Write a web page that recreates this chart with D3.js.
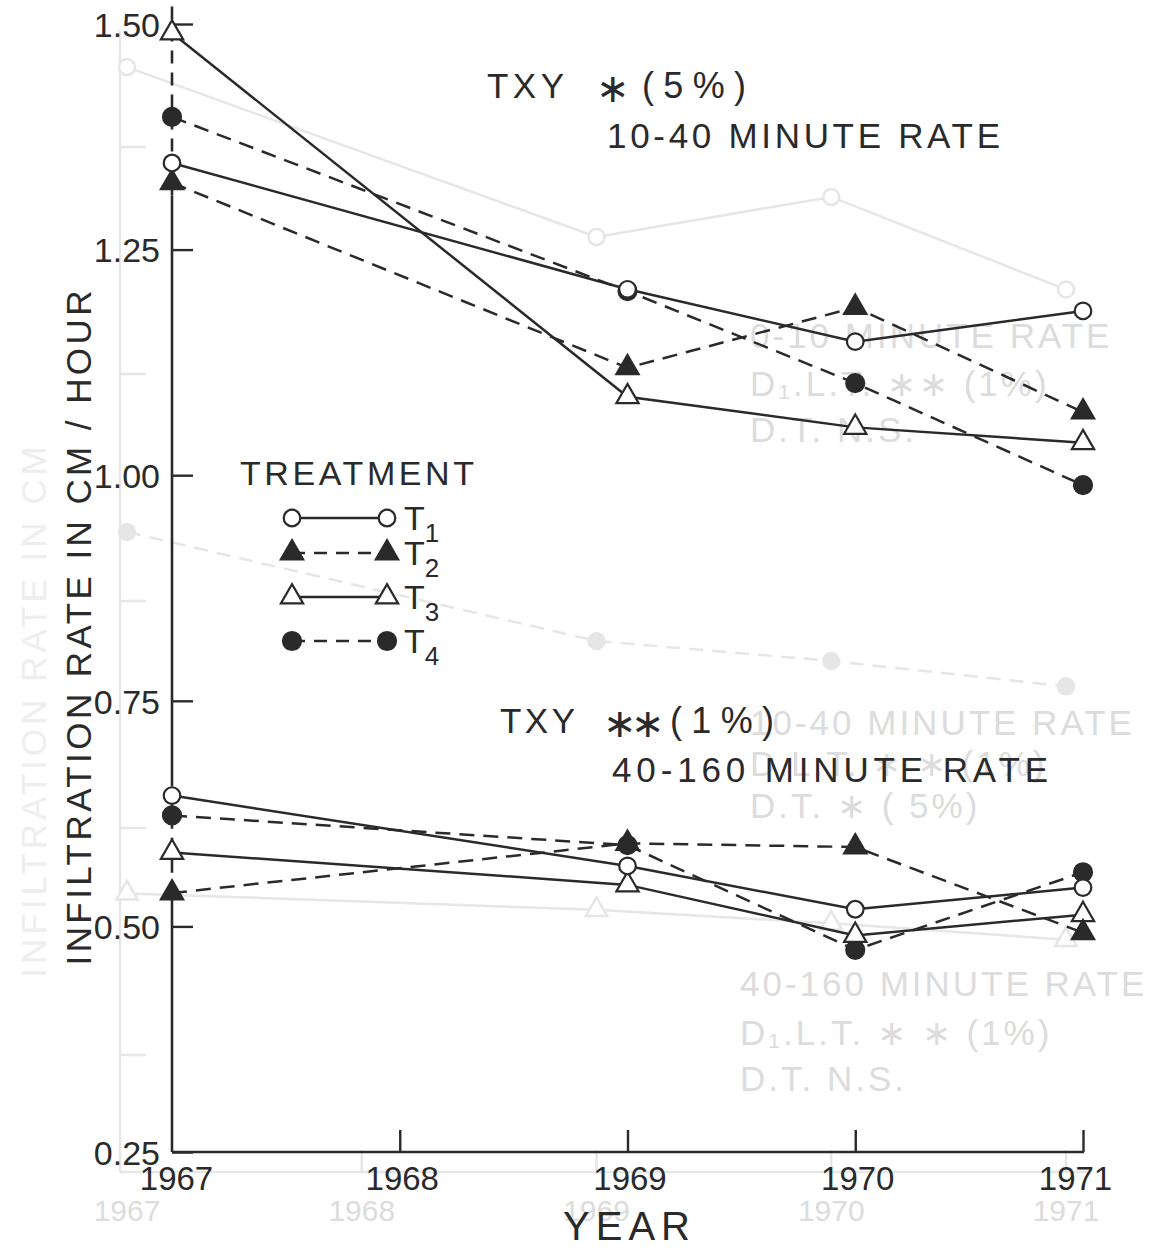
<!DOCTYPE html>
<html>
<head>
<meta charset="utf-8">
<script src="https://cdn.jsdelivr.net/npm/d3@7"></script>
<style>
  html, body { margin: 0; padding: 0; background: #ffffff; }
  svg { display: block; }
  text { font-family: "Liberation Sans", Arial, sans-serif; fill: #2a2a2a; }
</style>
</head>
<body>
<svg id="chart" width="1153" height="1250"></svg>
<script>
// ---- data -------------------------------------------------------------
const axisYears = [1967, 1968, 1969, 1970, 1971];
const sampleYears = [1967, 1969, 1970, 1971];
const rateTicks = [0.25, 0.50, 0.75, 1.00, 1.25, 1.50];
const treatmentNames = ["T1", "T2", "T3", "T4"];

// 10-40 minute infiltration rate (cm/hour)
const rate10to40T1 = [1.346, 1.206, 1.148, 1.182];
const rate10to40T2 = [1.324, 1.119, 1.186, 1.070];
const rate10to40T3 = [1.490, 1.087, 1.053, 1.036];
const rate10to40T4 = [1.397, 1.204, 1.102, 0.989];

// 40-160 minute infiltration rate (cm/hour)
const rate40to160T1 = [0.645, 0.567, 0.519, 0.543];
const rate40to160T2 = [0.537, 0.592, 0.588, 0.493];
const rate40to160T3 = [0.582, 0.546, 0.490, 0.513];
const rate40to160T4 = [0.623, 0.590, 0.474, 0.560];

// faint figure printed through from the facing page
const facingYears = [1967, 1968, 1969, 1970, 1971];
const facingTicks = [0.25, 0.50, 0.75, 1.00, 1.25];
const facingUpper = [1.338, 1.151, 1.195, 1.093];
const facingMiddle = [0.826, 0.706, 0.684, 0.656];
const facingLower = [0.428, 0.410, 0.395, 0.377];
const facingNotes = [
  "0-10 MINUTE RATE", "D\u2081.L.T. \u2217\u2217 (1%)", "D.T.  N.S.",
  "10-40 MINUTE RATE", "D.L.T. \u2217 \u2217 (1%)", "D.T.  \u2217  ( 5%)",
  "40-160 MINUTE RATE", "D\u2081.L.T.  \u2217 \u2217  (1%)", "D.T.   N.S."
];

// ---- setup ------------------------------------------------------------
const svg = d3.select("#chart");
const ink = "#2a2a2a";
const faint = "#dcdcdc";

const x = d3.scaleLinear().domain([1967, 1971]).range([172, 1083]);
const y = d3.scaleLinear().domain([0.25, 1.50]).range([1152, 24]);

// ---- facing-page figure (very light) ---------------------------------
const fx = d3.scaleLinear().domain([1967, 1971]).range([127, 1066]);
const fy = d3.scaleLinear().domain([0.25, 1.25]).range([1055, 147]);
const faintG = svg.append("g").attr("stroke", "#e6e6e6").attr("fill", "none").attr("stroke-width", 2.5);
faintG.append("line").attr("x1", 120).attr("x2", 120).attr("y1", 30).attr("y2", 1172);
faintG.append("line").attr("x1", 120).attr("x2", 1090).attr("y1", 1172).attr("y2", 1172);
faintG.selectAll(".fyt").data(facingTicks).join("line")
  .attr("x1", 120).attr("x2", 146).attr("y1", d => fy(d)).attr("y2", d => fy(d));
faintG.selectAll(".fxt").data(facingYears.slice(1)).join("line")
  .attr("x1", d => fx(d)).attr("x2", d => fx(d)).attr("y1", 1150).attr("y2", 1172);
const fLine = d3.line().x((d, i) => fx(sampleYears[i])).y(d => fy(d));
faintG.append("path").attr("d", fLine(facingUpper));
faintG.append("path").attr("d", fLine(facingMiddle)).attr("stroke-dasharray", "14,9");
faintG.append("path").attr("d", fLine(facingLower));
faintG.selectAll(".fc").data(facingUpper).join("circle")
  .attr("cx", (d, i) => fx(sampleYears[i])).attr("cy", d => fy(d)).attr("r", 8).attr("fill", "#fff");
faintG.selectAll(".fm").data(facingMiddle).join("circle")
  .attr("cx", (d, i) => fx(sampleYears[i])).attr("cy", d => fy(d)).attr("r", 8).attr("fill", "#e6e6e6");
faintG.selectAll(".fl").data(facingLower).join("path")
  .attr("transform", (d, i) => `translate(${fx(sampleYears[i])},${fy(d)})`)
  .attr("d", d3.symbol(d3.symbolTriangle, 200)()).attr("fill", "#fff");
svg.selectAll(".fyl").data(facingYears).join("text")
  .attr("x", d => fx(d)).attr("y", 1221).attr("text-anchor", "middle")
  .attr("font-size", 30).style("fill", faint).text(d => d);
const noteRows = [348, 396, 442, 735, 776, 818, 996, 1045, 1091];
svg.selectAll(".fn").data(facingNotes).join("text")
  .attr("x", (d, i) => i < 6 ? 750 : 740).attr("y", (d, i) => noteRows[i])
  .attr("font-size", 35).attr("letter-spacing", 3).style("fill", faint).text(d => d);
svg.append("text")
  .attr("transform", "translate(46,710) rotate(-90)")
  .attr("text-anchor", "middle").attr("font-size", 35).attr("letter-spacing", 4)
  .style("fill", "#eeeeee").text("INFILTRATION  RATE  IN  CM");

// ---- axes -------------------------------------------------------------
// vertical axis: solid where clear, broken where the 1967 markers stack up
const axisPieces = [
  { from: 0.25, to: 0.535, dash: null },
  { from: 0.535, to: 0.655, dash: "13,9" },
  { from: 0.655, to: 1.31, dash: null },
  { from: 1.31, to: 1.52, dash: "13,9" }
];
svg.append("g").selectAll("line").data(axisPieces).join("line")
  .attr("x1", x(1967)).attr("x2", x(1967))
  .attr("y1", d => y(d.from)).attr("y2", d => y(d.to))
  .attr("stroke", ink).attr("stroke-width", 2.6)
  .attr("stroke-dasharray", d => d.dash);

const yAxis = d3.axisLeft(y).tickValues(rateTicks).tickFormat(d3.format(".2f"))
  .tickSizeInner(-21).tickSizeOuter(0).tickPadding(12);
const gy = svg.append("g").attr("transform", `translate(${x(1967)},0)`).call(yAxis);
gy.select(".domain").remove();
gy.selectAll(".tick line").attr("stroke", ink).attr("stroke-width", 2.4);
gy.selectAll(".tick text").attr("font-size", 34).attr("font-family", null).attr("fill", null)
  .attr("dy", "0.36em");

const xAxis = d3.axisBottom(x).tickValues(axisYears).tickFormat(d3.format("d"))
  .tickSizeInner(-22).tickSizeOuter(0).tickPadding(15);
const gx = svg.append("g").attr("transform", `translate(0,${y(0.25)})`).call(xAxis);
gx.select(".domain").attr("stroke", ink).attr("stroke-width", 2.6).attr("d", `M${x(1967)},0H${x(1971) + 1}`);
gx.selectAll(".tick line").attr("stroke", ink).attr("stroke-width", 2.4)
  .attr("display", d => d === 1967 ? "none" : null);
gx.selectAll(".tick text").attr("font-size", 33).attr("font-family", null).attr("fill", null)
  .attr("dx", d => d === 1967 ? 4 : (d === 1971 ? -8 : 2));

// ---- series -----------------------------------------------------------
const seriesTop = [rate10to40T1, rate10to40T2, rate10to40T3, rate10to40T4];
const seriesBottom = [rate40to160T1, rate40to160T2, rate40to160T3, rate40to160T4];
const dashFor = [null, "15,9", null, "15,9"];
const markerFor = ["openCircle", "filledTriangle", "openTriangle", "filledCircle"];
const drawOrder = [3, 2, 1, 0];

const line = d3.line().x((d, i) => x(sampleYears[i])).y(d => y(d));
const plotG = svg.append("g");

function drawMarker(g, kind, cx, cy) {
  if (kind === "openCircle" || kind === "filledCircle") {
    g.append("circle").attr("cx", cx).attr("cy", cy)
      .attr("r", kind === "openCircle" ? 8.3 : 9)
      .attr("fill", kind === "openCircle" ? "#fff" : ink)
      .attr("stroke", ink).attr("stroke-width", 2.2);
  } else {
    g.append("path")
      .attr("transform", `translate(${cx},${cy})`)
      .attr("d", d3.symbol(d3.symbolTriangle, 215)())
      .attr("fill", kind === "openTriangle" ? "#fff" : ink)
      .attr("stroke", ink).attr("stroke-width", 2.2).attr("stroke-linejoin", "miter");
  }
}

[seriesTop, seriesBottom].forEach(group => {
  drawOrder.forEach(k => {
    plotG.append("path").attr("d", line(group[k])).attr("fill", "none")
      .attr("stroke", ink).attr("stroke-width", 2.5)
      .attr("stroke-dasharray", dashFor[k]);
  });
});
[seriesTop, seriesBottom].forEach(group => {
  drawOrder.forEach(k => {
    group[k].forEach((v, i) => drawMarker(plotG, markerFor[k], x(sampleYears[i]), y(v)));
  });
});

// ---- annotations ------------------------------------------------------
function label(txt, px, py, size, len) {
  const t = svg.append("text").attr("x", px).attr("y", py).attr("font-size", size).text(txt);
  if (len) t.attr("textLength", len).attr("lengthAdjust", "spacing");
  return t;
}
function star(px, py) {
  return svg.append("text").attr("x", px).attr("y", py)
    .attr("font-family", "DejaVu Sans").attr("font-size", 40)
    .attr("text-anchor", "middle").text("\u2217");
}
label("TXY", 487, 98, 35, 77);
star(613, 102);
label("(5%)", 642, 98, 36, 104);
label("10-40 MINUTE  RATE", 607, 148, 35, 393);
label("TXY", 500, 733, 35, 75);
star(620, 737);
star(648, 737);
label("(1%)", 670, 733, 36, 104);
label("40-160 MINUTE  RATE", 612, 782, 35, 436);

// legend
label("TREATMENT", 240, 485, 34, 234);
const legendRows = [518, 553, 597, 641];
treatmentNames.forEach((name, k) => {
  const ry = legendRows[k];
  plotG.append("line").attr("x1", 292).attr("x2", 387).attr("y1", ry).attr("y2", ry)
    .attr("stroke", ink).attr("stroke-width", 2.3).attr("stroke-dasharray", dashFor[k] ? "13,9" : null);
  drawMarker(plotG, markerFor[k], 292, ry);
  drawMarker(plotG, markerFor[k], 387, ry);
  const t = svg.append("text").attr("x", 404).attr("y", ry + 12).attr("font-size", 34);
  t.append("tspan").text(name[0]);
  t.append("tspan").attr("dy", 12).attr("font-size", 26).text(name.slice(1));
});

// axis titles
svg.append("text")
  .attr("transform", `translate(91,${628}) rotate(-90)`)
  .attr("text-anchor", "middle").attr("font-size", 35)
  .attr("textLength", 675).attr("lengthAdjust", "spacing")
  .text("INFILTRATION RATE IN CM / HOUR");
label("YEAR", 563, 1240, 40, 127);
</script>
</body>
</html>
